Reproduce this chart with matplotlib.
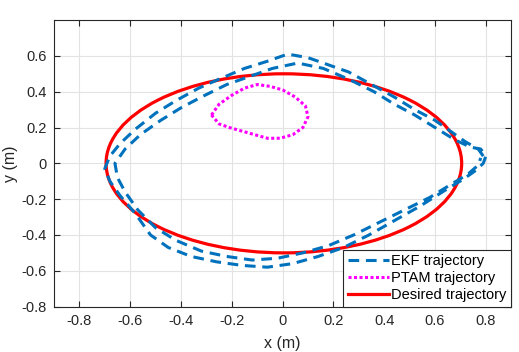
import matplotlib.pyplot as plt
from matplotlib.patches import Ellipse
from matplotlib.lines import Line2D

plt.rcParams['font.family'] = ['Liberation Sans', 'DejaVu Sans']

# EKF estimate, two laps
ekf_x = [0.79, 0.77, 0.72, 0.66, 0.60, 0.52, 0.44, 0.35, 0.26, 0.18, 0.10, 0.02,
         -0.06, -0.15, -0.25, -0.33, -0.42, -0.50, -0.58, -0.64, -0.68, -0.70,
         -0.68, -0.64, -0.58, -0.52, -0.45, -0.36, -0.26, -0.16, -0.06, 0.04,
         0.14, 0.24, 0.34, 0.44, 0.54, 0.64, 0.71, 0.76, 0.79, 0.80,
         0.78, 0.74, 0.68, 0.60, 0.52, 0.44, 0.36, 0.26, 0.16, 0.06,
         -0.04, -0.12, -0.22, -0.32, -0.40, -0.48, -0.56, -0.62, -0.66,
         -0.65, -0.62, -0.57, -0.50, -0.42, -0.32, -0.22, -0.12, -0.02,
         0.08, 0.18, 0.28, 0.38, 0.48, 0.58, 0.66, 0.73, 0.77, 0.78]
ekf_y = [0.04, 0.08, 0.12, 0.18, 0.24, 0.30, 0.37, 0.44, 0.51, 0.55, 0.59, 0.61,
         0.57, 0.53, 0.47, 0.42, 0.35, 0.28, 0.19, 0.11, 0.04, -0.03,
         -0.10, -0.18, -0.28, -0.40, -0.47, -0.52, -0.55, -0.57, -0.58, -0.56,
         -0.52, -0.47, -0.40, -0.32, -0.24, -0.15, -0.09, -0.04, 0.00, 0.04,
         0.08, 0.09, 0.13, 0.20, 0.27, 0.33, 0.40, 0.47, 0.53, 0.56,
         0.53, 0.49, 0.44, 0.37, 0.31, 0.24, 0.16, 0.08, 0.00,
         -0.08, -0.16, -0.26, -0.36, -0.43, -0.49, -0.52, -0.54, -0.53,
         -0.50, -0.46, -0.40, -0.33, -0.26, -0.19, -0.12, -0.06, -0.01, 0.03]

# PTAM estimate (small loop)
ptam_x = [-0.28, -0.25, -0.20, -0.15, -0.10, -0.05, 0.00, 0.05, 0.09, 0.10,
          0.08, 0.04, -0.01, -0.06, -0.11, -0.16, -0.21, -0.25, -0.28]
ptam_y = [0.27, 0.33, 0.38, 0.42, 0.44, 0.43, 0.41, 0.37, 0.32, 0.26,
          0.20, 0.16, 0.14, 0.14, 0.16, 0.18, 0.20, 0.22, 0.27]

# desired trajectory: ellipse centre and full axes (m)
des_center = (0.005, 0.0)
des_width = 1.4
des_height = 1.0

fig, ax = plt.subplots(figsize=(5.19, 3.52), dpi=100)
fig.subplots_adjust(left=0.104, right=0.985, bottom=0.129, top=0.943)

ax.plot(ekf_x, ekf_y, color='#0072BD', linewidth=2.2,
        linestyle=(0, (3.5, 2.2)))
ax.plot(ptam_x, ptam_y, color='#FF00FF', linewidth=2.2,
        linestyle=(0, (1, 0.8)))
ax.add_patch(Ellipse(des_center, des_width, des_height, fill=False,
                     edgecolor='#FF0000', linewidth=2.3))

ax.set_xlim(-0.9, 0.9)
ax.set_ylim(-0.8, 0.8)
ax.set_xticks([-0.8, -0.6, -0.4, -0.2, 0, 0.2, 0.4, 0.6, 0.8])
ax.set_yticks([-0.8, -0.6, -0.4, -0.2, 0, 0.2, 0.4, 0.6])
ax.set_xticklabels(['-0.8', '-0.6', '-0.4', '-0.2', '0', '0.2', '0.4', '0.6', '0.8'])
ax.set_yticklabels(['-0.8', '-0.6', '-0.4', '-0.2', '0', '0.2', '0.4', '0.6'])
ax.grid(True, color='#e3e3e3', linewidth=0.8)
ax.set_axisbelow(True)
ax.tick_params(direction='in', top=True, right=True, length=4,
               labelsize=10.5, colors='#262626', pad=5)
for s in ax.spines.values():
    s.set_color('#262626')
    s.set_linewidth(0.8)
ax.set_xlabel('x (m)', fontsize=11.5, color='#262626', labelpad=6)
ax.set_ylabel('y (m)', fontsize=11.5, color='#262626', labelpad=3)

handles = [
    Line2D([], [], color='#0072BD', linewidth=2.2, linestyle=(0, (3.5, 2.2))),
    Line2D([], [], color='#FF00FF', linewidth=2.2, linestyle=(0, (1, 0.8))),
    Line2D([], [], color='#FF0000', linewidth=2.3),
]
leg = ax.legend(handles, ['EKF trajectory', 'PTAM trajectory', 'Desired trajectory'],
                loc='lower right', borderaxespad=0, fontsize=10.5, fancybox=False,
                framealpha=1, edgecolor='#262626', handlelength=2.8,
                labelspacing=0.2, handletextpad=0.2, borderpad=0.3)
leg.get_frame().set_linewidth(0.8)

plt.savefig('out.png', dpi=100)
